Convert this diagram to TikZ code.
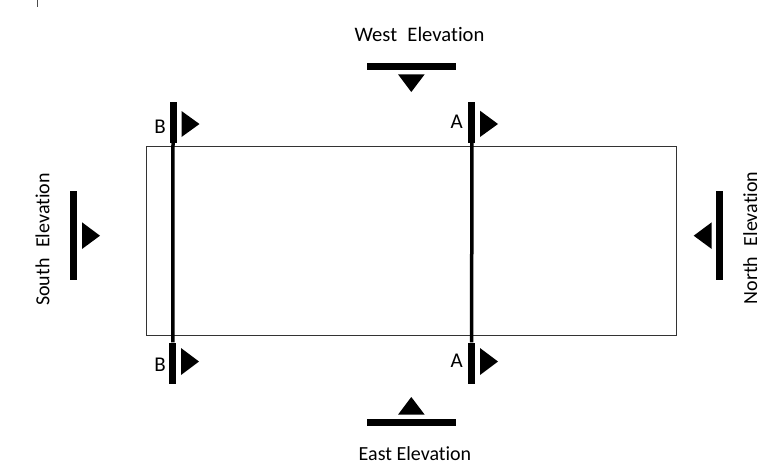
\documentclass[tikz,border=0pt]{standalone}
\usepackage{fontspec}
\setmainfont[Ligatures=NoCommon]{Carlito}
\tikzset{
  barv/.style={fill=black,draw=none,inner sep=0pt,minimum width=7pt,minimum height=41pt},
  elevv/.style={fill=black,draw=none,inner sep=0pt,minimum width=7pt,minimum height=89pt},
  elevh/.style={fill=black,draw=none,inner sep=0pt,minimum width=89pt,minimum height=7pt},
  tri/.style={fill=black,draw=none},
  lbl/.style={inner sep=0pt,font=\fontsize{21}{24}\selectfont},
  captxt/.style={inner sep=0pt,anchor=base,font=\fontsize{20}{24}\selectfont},
  sect/.style={draw=black,line width=3.5pt},
  plan/.style={draw=black!80,line width=0.9pt}
}
\begin{document}
\begin{tikzpicture}[x=1pt,y=-1pt]
\useasboundingbox (0,0) rectangle (763,474);
\draw[black!70,line width=0.8pt] (37,0) -- (37,7);
\node[plan,minimum width=529.5pt,minimum height=189pt,inner sep=0pt] (plan) at (411.25,241) {};
% section bars
\node[barv] (Bt) at (173,122.5) {};
\node[barv] (Bb) at (172.8,363) {};
\node[barv] (At) at (471.8,122.5) {};
\node[barv] (Ab) at (471.7,363) {};
\draw[sect] (Bt.south) -- (Bb.north);
\draw[sect] (At.south) -- (Ab.north);
% section arrows
\fill[tri] (181.5,111) -- (199.5,124) -- (181.5,137) -- cycle;
\fill[tri] (181,348) -- (199,361.5) -- (181,375) -- cycle;
\fill[tri] (480,110.7) -- (498,124) -- (480,137) -- cycle;
\fill[tri] (480,348) -- (498,361.5) -- (480,375) -- cycle;
\node[lbl] (lB1) at (160,126.5) {B};
\node[lbl] (lB2) at (160,365) {B};
\node[lbl] (lA1) at (456.7,122) {A};
\node[lbl] (lA2) at (456.7,361) {A};
% west
\node[elevh] (W) at (411.5,66.2) {};
\fill[tri] (398,74.3) -- (424.7,74.3) -- (411.3,92) -- cycle;
\node[captxt,font=\fontsize{20.6}{24}\selectfont] (wt) at (419.5,41.7) {West\hspace{0.5em}Elevation};
% east
\node[elevh] (E) at (411.5,422.8) {};
\fill[tri] (398,414.7) -- (424.7,414.7) -- (411.3,397) -- cycle;
\node[captxt] (et) at (415,460) {East Elevation};
% north
\node[elevv] (N) at (719.8,235.8) {};
\fill[tri] (711.7,222.3) -- (711.7,249) -- (693.7,235.7) -- cycle;
\node[captxt,rotate=90] (nt) at (757,238) {North\hspace{0.3em} Elevation};
% south
\node[elevv] (S) at (73.8,235.8) {};
\fill[tri] (82,222.3) -- (82,249) -- (100,235.7) -- cycle;
\node[captxt,rotate=90] (st) at (49.3,239.5) {South\hspace{0.3em} Elevation};
\end{tikzpicture}
\end{document}
